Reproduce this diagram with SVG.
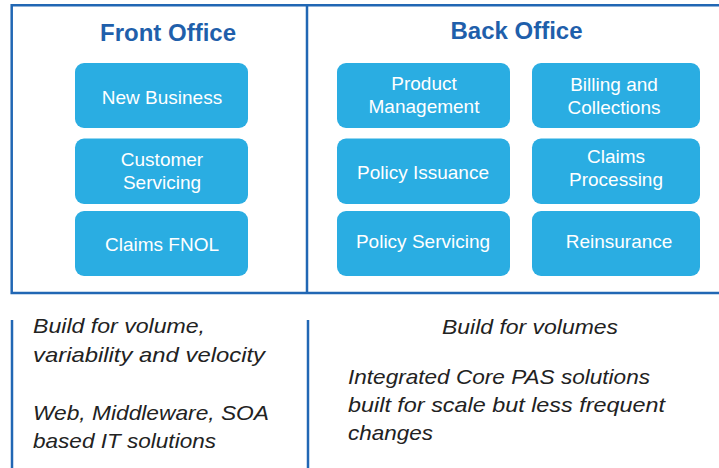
<svg xmlns="http://www.w3.org/2000/svg" width="719" height="468" viewBox="0 0 719 468">
<style>
.frame{fill:none;stroke:#2167b4;stroke-width:2.5}
.box{fill:#2aade2}
.bt{font-family:"Liberation Sans",Arial,sans-serif;font-size:19px;fill:#ffffff;text-anchor:middle}
.title{font-family:"Liberation Sans",Arial,sans-serif;font-size:24px;font-weight:bold;fill:#1f5fab;text-anchor:middle}
.note{font-family:"Liberation Sans",Arial,sans-serif;font-size:21px;font-style:italic;fill:#222222}
</style>
<rect width="719" height="468" fill="#ffffff"/>
<g id="frame">
<polyline class="frame" points="725,5.3 11.7,5.3 11.7,293 725,293"/>
<line class="frame" x1="307" y1="5.3" x2="307" y2="293"/>
<line class="frame" x1="12" y1="320" x2="12" y2="470"/>
<line class="frame" x1="308" y1="320" x2="308" y2="470"/>
</g>
<g id="front-office">
<text class="title" x="168" y="41">Front Office</text>
</g>
<g id="back-office">
<text class="title" x="516.5" y="39">Back Office</text>
</g>
<g id="new-business"><rect class="box" x="75" y="63" width="173" height="65" rx="9"/><text class="bt" x="162" y="104">New Business</text></g>
<g id="customer-servicing"><rect class="box" x="75" y="138.5" width="173" height="65.5" rx="9"/><text class="bt" x="162" y="166">Customer</text><text class="bt" x="162" y="189">Servicing</text></g>
<g id="claims-fnol"><rect class="box" x="75" y="211" width="173" height="65" rx="9"/><text class="bt" x="162" y="251">Claims FNOL</text></g>
<g id="product-management"><rect class="box" x="337" y="63" width="173" height="65" rx="9"/><text class="bt" x="424" y="90">Product</text><text class="bt" x="424" y="113">Management</text></g>
<g id="policy-issuance"><rect class="box" x="337" y="138.5" width="173" height="65.5" rx="9"/><text class="bt" x="423" y="179">Policy Issuance</text></g>
<g id="policy-servicing"><rect class="box" x="337" y="211" width="173" height="65" rx="9"/><text class="bt" x="423" y="248">Policy Servicing</text></g>
<g id="billing-collections"><rect class="box" x="532" y="63" width="168" height="65" rx="9"/><text class="bt" x="614" y="91">Billing and</text><text class="bt" x="614" y="114">Collections</text></g>
<g id="claims-processing"><rect class="box" x="532" y="138.5" width="168" height="65.5" rx="9"/><text class="bt" x="616" y="163">Claims</text><text class="bt" x="616" y="186">Processing</text></g>
<g id="reinsurance"><rect class="box" x="532" y="211" width="168" height="65" rx="9"/><text class="bt" x="619" y="248">Reinsurance</text></g>
<g id="front-notes">
<text class="note" x="33" y="333" textLength="172" lengthAdjust="spacingAndGlyphs">Build for volume,</text>
<text class="note" x="33" y="362" textLength="232" lengthAdjust="spacingAndGlyphs">variability and velocity</text>
<text class="note" x="33" y="420" textLength="236" lengthAdjust="spacingAndGlyphs">Web, Middleware, SOA</text>
<text class="note" x="33" y="448" textLength="183" lengthAdjust="spacingAndGlyphs">based IT solutions</text>
</g>
<g id="back-notes">
<text class="note" x="442" y="334" textLength="176" lengthAdjust="spacingAndGlyphs">Build for volumes</text>
<text class="note" x="348" y="384" textLength="302" lengthAdjust="spacingAndGlyphs">Integrated Core PAS solutions</text>
<text class="note" x="348" y="412" textLength="317" lengthAdjust="spacingAndGlyphs">built for scale but less frequent</text>
<text class="note" x="348" y="440" textLength="85" lengthAdjust="spacingAndGlyphs">changes</text>
</g>
</svg>
